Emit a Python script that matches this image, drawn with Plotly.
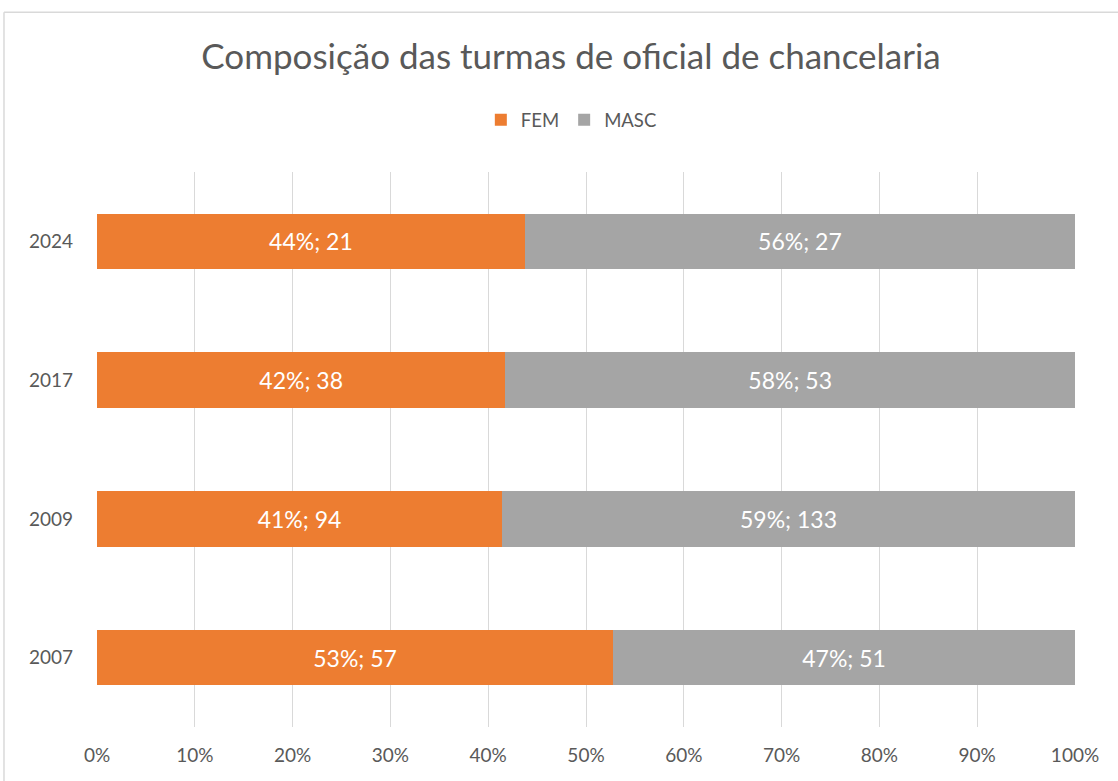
import plotly.graph_objects as go

anos = ["2007", "2009", "2017", "2024"]
fem = [57, 94, 38, 21]
masc = [51, 133, 53, 27]
xticks = [0, 0.1, 0.2, 0.3, 0.4, 0.5, 0.6, 0.7, 0.8, 0.9, 1.0]
xticklabels = ["0%", "10%", "20%", "30%", "40%", "50%", "60%", "70%", "80%", "90%", "100%"]

tot = [f + m for f, m in zip(fem, masc)]
fem_p = [f / t for f, t in zip(fem, tot)]
masc_p = [m / t for m, t in zip(masc, tot)]

FONT = "Lato, 'Open Sans', sans-serif"
TXT = "#595959"

fig = go.Figure()
fig.add_trace(go.Bar(
    y=anos, x=fem_p, orientation="h", name="FEM",
    marker=dict(color="#ED7D31", line=dict(width=0)),
    customdata=fem,
    texttemplate="%{x:.0%}; %{customdata}", textposition="inside",
    insidetextanchor="middle",
    textfont=dict(color="white", size=23, family=FONT),
    hoverinfo="skip",
))
fig.add_trace(go.Bar(
    y=anos, x=masc_p, orientation="h", name="MASC",
    marker=dict(color="#A5A5A5", line=dict(width=0)),
    customdata=masc,
    texttemplate="%{x:.0%}; %{customdata}", textposition="inside",
    insidetextanchor="middle",
    textfont=dict(color="white", size=23, family=FONT),
    hoverinfo="skip",
))

fig.update_layout(
    barmode="stack",
    bargap=0.6,
    width=1118, height=781,
    margin=dict(l=97, r=43, t=172, b=54),
    paper_bgcolor="white", plot_bgcolor="white",
    font=dict(family=FONT, color=TXT),
    title=dict(text="Composição das turmas de oficial de chancelaria",
               xref="paper", x=0.4847, xanchor="center", y=0.927, yanchor="middle",
               font=dict(size=35, color=TXT, family=FONT)),
    legend=dict(orientation="h", x=0.485, xanchor="center", y=0.846, yref="container",
                yanchor="middle", font=dict(size=18.5, color=TXT, family=FONT),
                traceorder="normal", itemwidth=30),
    showlegend=True,
    uniformtext=dict(mode="show", minsize=10),
)
fig.update_xaxes(
    range=[0, 1.0], tickvals=xticks, ticktext=xticklabels,
    showgrid=True, gridcolor="#D9D9D9", gridwidth=1.3,
    zeroline=False, showline=False,
    tickfont=dict(size=19, color=TXT, family=FONT),
    ticks="", ticklabelstandoff=15, fixedrange=True,
)
fig.update_yaxes(
    range=[-0.5, 3.5], showgrid=False, zeroline=False, showline=False,
    tickfont=dict(size=19, color=TXT, family=FONT), ticks="", ticklabelstandoff=23,
)
# chart area border (top and left edges visible)
fig.add_shape(type="line", xref="paper", yref="paper",
              x0=-0.0951, x1=1.05, y0=1.288, y1=1.288,
              line=dict(color="#D9D9D9", width=1.5))
fig.add_shape(type="line", xref="paper", yref="paper",
              x0=-0.0951, x1=-0.0951, y0=1.288, y1=-0.1,
              line=dict(color="#D9D9D9", width=1.5))

fig.write_html("out.html", config={"displayModeBar": False},
               post_script="document.body.style.margin='0';document.body.style.overflow='hidden';")
